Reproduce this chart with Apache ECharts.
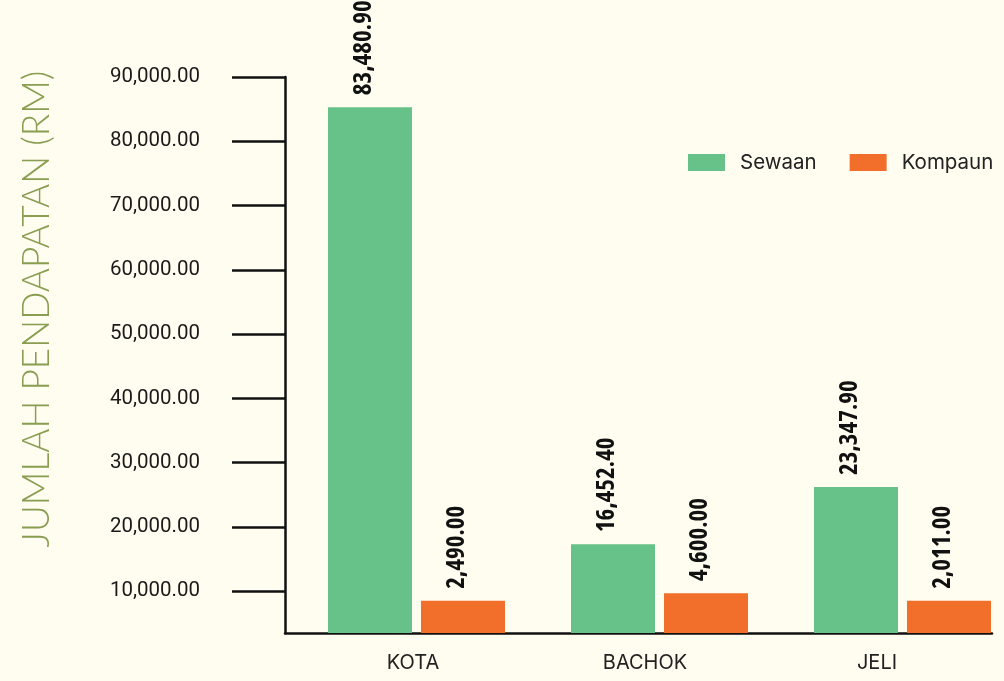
<!DOCTYPE html>
<html>
<head>
<meta charset="utf-8">
<script src="https://cdn.jsdelivr.net/npm/echarts@6/dist/echarts.min.js"></script>
<style>
html,body{margin:0;padding:0;background:#FFFDF0;}
#chart{width:1004px;height:681px;}
</style>
</head>
<body>
<div id="chart"></div>
<script>
// ---- data ----
const categories = ['KOTA', 'BACHOK', 'JELI'];
const seriesNames = ['Sewaan', 'Kompaun'];
// bar heights as read against the y axis of the picture
const sewaanValues = [85300, 17300, 26200];
const kompaunValues = [8500, 9700, 8500];
// value labels printed above the bars
const sewaanLabels = ['83,480.90', '16,452.40', '23,347.90'];
const kompaunLabels = ['2,490.00', '4,600.00', '2,011.00'];
const yTickValues = [10000, 20000, 30000, 40000, 50000, 60000, 70000, 80000, 90000];
const yTitle = 'JUMLAH PENDAPATAN (RM)';

const Y_MIN = 3500, Y_MAX = 90000;
const TOP = 77, BOTTOM = 48;
const fmt = v => v.toLocaleString('en-US', {minimumFractionDigits: 2, maximumFractionDigits: 2});

const chart = echarts.init(document.getElementById('chart'));

function valueLabel(labels) {
  return {
    show: true,
    position: 'top',
    distance: 12,
    rotate: 90,
    align: 'left',
    verticalAlign: 'middle',
    offset: [0, -6],
    fontFamily: "'Open Sans'",
    fontWeight: 'bold condensed',
    fontSize: 25,
    color: '#111',
    formatter: p => labels[p.dataIndex]
  };
}

const yBase = {type: 'value', min: Y_MIN, max: Y_MAX, startValue: Y_MIN};

chart.setOption({
  backgroundColor: '#FFFDF0',
  animation: false,
  legend: {
    data: seriesNames,
    left: 683,
    top: 147,
    icon: 'rect',
    itemWidth: 37,
    itemHeight: 17,
    itemGap: 33,
    textStyle: {fontFamily: 'Inter', fontSize: 20.5, color: '#222', padding: [0, 0, 0, 10]}
  },
  grid: [
    {left: 285, right: 12, top: TOP, bottom: BOTTOM},
    {left: 297, width: 696, top: TOP, bottom: BOTTOM},
    {left: 416.5, width: 486, top: TOP, bottom: BOTTOM}
  ],
  xAxis: [
    {type: 'category', gridIndex: 0, data: categories,
     axisLine: {show: true, lineStyle: {color: '#111', width: 2.5}},
     axisTick: {show: false}, axisLabel: {show: false}},
    {type: 'category', gridIndex: 1, data: categories,
     axisLine: {show: false}, axisTick: {show: false},
     axisLabel: {show: true, margin: 20, fontFamily: 'Inter', fontSize: 20, color: '#222'}},
    {type: 'category', gridIndex: 2, data: categories, boundaryGap: false, show: false}
  ],
  yAxis: [
    Object.assign({gridIndex: 0}, yBase, {
      axisLine: {show: true, lineStyle: {color: '#111', width: 2.5}},
      axisTick: {show: true, length: 53, customValues: yTickValues, lineStyle: {color: '#111', width: 2.5}},
      axisLabel: {show: true, margin: 85, customValues: yTickValues, formatter: v => fmt(v),
        fontFamily: 'Roboto', fontSize: 20.5, color: '#1a1a1a'},
      splitLine: {show: false}
    }),
    Object.assign({gridIndex: 1, show: false}, yBase),
    Object.assign({gridIndex: 2, show: false}, yBase)
  ],
  graphic: [{
    type: 'text',
    x: 37, y: 309,
    rotation: Math.PI / 2,
    style: {
      text: yTitle,
      align: 'center',
      verticalAlign: 'middle',
      fontFamily: 'Lato',
      fontWeight: 300,
      fontSize: 37,
      fill: '#8A9E52'
    }
  }],
  series: [
    {name: seriesNames[0], type: 'bar', xAxisIndex: 2, yAxisIndex: 2, clip: false,
     data: sewaanValues, barWidth: 84, barGap: '10.7%',
     itemStyle: {color: '#67C28A'}, label: valueLabel(sewaanLabels)},
    {name: seriesNames[1], type: 'bar', xAxisIndex: 2, yAxisIndex: 2, clip: false,
     data: kompaunValues, barWidth: 84, barGap: '10.7%',
     itemStyle: {color: '#F26F2B'}, label: valueLabel(kompaunLabels)}
  ]
});
</script>
</body>
</html>
